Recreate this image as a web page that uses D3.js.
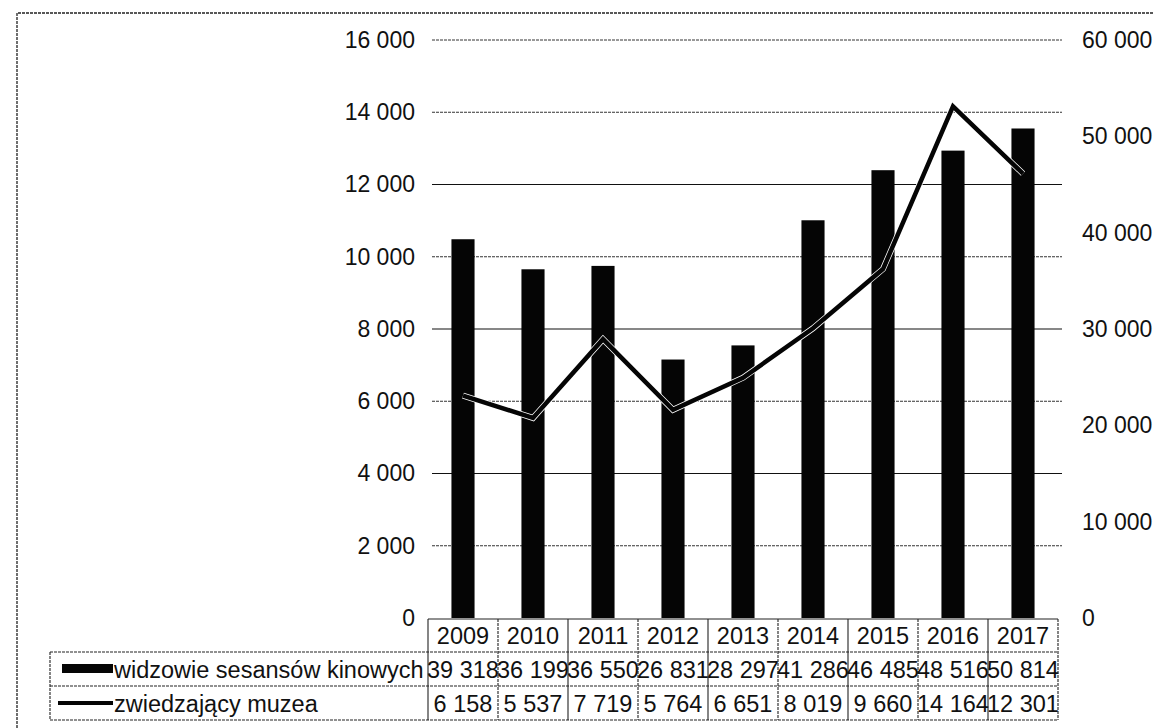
<!DOCTYPE html>
<html><head><meta charset="utf-8">
<script src="https://cdn.jsdelivr.net/npm/d3@7"></script>
<style>
html,body{margin:0;padding:0;background:#fff;}
svg{display:block;font-family:"Liberation Sans",Arial,sans-serif;}
</style></head>
<body><svg id="c" width="1153" height="728"></svg>
<script>
const years = ["2009","2010","2011","2012","2013","2014","2015","2016","2017"];
const cinema = [39318, 36199, 36550, 26831, 28297, 41286, 46485, 48516, 50814];
const museum = [6158, 5537, 7719, 5764, 6651, 8019, 9660, 14164, 12301];
const leftTicks = [0,2000,4000,6000,8000,10000,12000,14000,16000];
const rightTicks = [0,10000,20000,30000,40000,50000,60000];
const seriesNames = ["widzowie sesansów kinowych","zwiedzający muzea"];

const loc = d3.formatLocale({decimal:",",thousands:" ",grouping:[3],currency:["",""]});
const fmt = loc.format(",d");

const svg = d3.select("#c");
const X0 = 428, X1 = 1058, Y0 = 618, Y1 = 40;
const x = d3.scaleBand().domain(years).range([X0,X1]).paddingInner(0.67).paddingOuter(0.335);
const xc = d3.scaleBand().domain(years).range([X0,X1]);
const yL = d3.scaleLinear().domain([0,16000]).range([Y0,Y1]);
const yR = d3.scaleLinear().domain([0,60000]).range([Y0,Y1]);

// outer dashed border
svg.append("path").attr("d",`M17,728 L17,13 L1153,13`).attr("fill","none")
  .attr("stroke","#222").attr("stroke-width",1.3).attr("stroke-dasharray","3,1");

// gridlines
const solid = d => d%4000===0 && d!==16000;
svg.append("g").selectAll("line").data(leftTicks.filter(d=>d>0)).join("line")
  .attr("x1",X0+4).attr("x2",X1+4).attr("y1",d=>yL(d)).attr("y2",d=>yL(d))
  .attr("stroke",d=> solid(d) ? "#111" : "#333")
  .attr("stroke-width",d=> solid(d) ? 1.2 : 1)
  .attr("stroke-dasharray",d=> solid(d) ? null : "3,1");

// axes
const gL = svg.append("g").attr("transform",`translate(${X0},0)`)
  .call(d3.axisLeft(yL).tickValues(leftTicks).tickSize(0).tickPadding(13).tickFormat(fmt));
const gR = svg.append("g").attr("transform",`translate(${X1},0)`)
  .call(d3.axisRight(yR).tickValues(rightTicks).tickSize(0).tickPadding(24).tickFormat(fmt));
[gL,gR].forEach(g=>{
  g.select(".domain").remove();
  g.selectAll("text").attr("font-size",23).attr("fill","#111").attr("font-family","Liberation Sans, Arial, sans-serif");
});

// bars
svg.append("g").selectAll("rect").data(years).join("rect")
  .attr("x",d=>x(d)).attr("width",x.bandwidth())
  .attr("y",(d,i)=>yR(cinema[i])).attr("height",(d,i)=>Y0-yR(cinema[i]))
  .attr("fill","#050505");

// line (thin white casing so it stays visible over the bars)
const line = d3.line().x((d,i)=>xc(years[i])+xc.bandwidth()/2).y(d=>yL(d));
svg.append("path").datum(museum).attr("d",line).attr("fill","none")
  .attr("stroke","#fff").attr("stroke-width",6).attr("stroke-linejoin","miter");
svg.append("path").datum(museum).attr("d",line).attr("fill","none")
  .attr("stroke","#050505").attr("stroke-width",4.5).attr("stroke-linejoin","miter");

// data table
const R0 = 619, R1 = 652, R2 = 686, R3 = 720, LX = 50;
const T = svg.append("g").attr("stroke","#222").attr("stroke-width",1.1).attr("fill","none");
T.append("line").attr("x1",X0).attr("x2",X1).attr("y1",R0).attr("y2",R0);
T.append("line").attr("x1",LX).attr("x2",X1).attr("y1",R1).attr("y2",R1).attr("stroke-dasharray","3,1");
T.append("line").attr("x1",LX).attr("x2",X1).attr("y1",R2).attr("y2",R2).attr("stroke-dasharray","3,1");
T.append("line").attr("x1",LX).attr("x2",X1).attr("y1",R3).attr("y2",R3).attr("stroke-dasharray","3,1");
T.append("line").attr("x1",LX).attr("x2",LX).attr("y1",R1).attr("y2",R3).attr("stroke-dasharray","3,1");
T.selectAll("line.v").data(years.concat(["end"])).join("line").attr("class","v")
  .attr("x1",(d,i)=>X0+i*xc.step()).attr("x2",(d,i)=>X0+i*xc.step())
  .attr("y1",R0).attr("y2",R3).attr("stroke-dasharray",(d,i)=>i%2? "3,1":null);

const FS = 23.5;
const txt = svg.append("g").attr("font-size",FS).attr("fill","#111").attr("text-anchor","middle");
txt.selectAll("text.h").data(years).join("text").attr("class","h")
  .attr("x",d=>xc(d)+xc.bandwidth()/2).attr("y",(R0+R1)/2+8.5).text(d=>d);
txt.selectAll("text.c").data(cinema).join("text").attr("class","c")
  .attr("x",(d,i)=>xc(years[i])+xc.bandwidth()/2).attr("y",(R1+R2)/2+8.5).text(d=>fmt(d));
txt.selectAll("text.m").data(museum).join("text").attr("class","m")
  .attr("x",(d,i)=>xc(years[i])+xc.bandwidth()/2).attr("y",(R2+R3)/2+8.5).text(d=>fmt(d));

// legend keys
svg.append("rect").attr("x",62).attr("y",(R1+R2)/2-5).attr("width",51).attr("height",9).attr("fill","#050505");
svg.append("line").attr("x1",58).attr("x2",113).attr("y1",(R2+R3)/2).attr("y2",(R2+R3)/2)
  .attr("stroke","#050505").attr("stroke-width",4);
const lg = svg.append("g").attr("font-size",FS).attr("fill","#111");
lg.append("text").attr("x",114).attr("y",(R1+R2)/2+8.5).text(seriesNames[0]);
lg.append("text").attr("x",114).attr("y",(R2+R3)/2+8.5).text(seriesNames[1]);
</script></body></html>
